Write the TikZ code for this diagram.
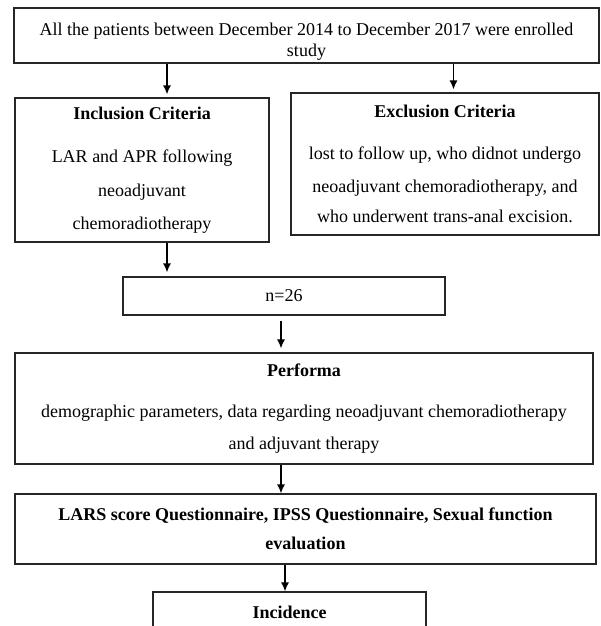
\documentclass[tikz,border=0pt]{standalone}
\usepackage{fontspec}
\setmainfont{Liberation Serif}
\usetikzlibrary{arrows.meta}

\begin{document}
\begin{tikzpicture}[x=1pt,y=-1pt]
\tikzset{wbox/.style = {rectangle, draw=black!85, line width=1.1pt, inner sep=0pt, align=center, font=\fontsize{18}{21}\selectfont}}
\tikzset{arr/.style = {-{Latex[length=9pt,width=8pt]}, line width=1.5pt}}
\useasboundingbox[fill=white] (0,0) rectangle (600,626);

    \node[wbox, minimum width=585, minimum height=55] (top) at (306.5,35.5)
        {\rule{0pt}{25pt}All the patients between December 2014 to December 2017 were enrolled\\[0pt] study};

    \node[wbox, minimum width=254, minimum height=144] (incl) at (142,170)
        {\textbf{Inclusion Criteria}\\[22pt] LAR and APR following\\[13pt] neoadjuvant\\[12pt] chemoradiotherapy};
    \node[wbox, minimum width=308, minimum height=142] (excl) at (445,164)
        {\textbf{Exclusion Criteria}\\[21pt] lost to follow up, who didnot undergo\\[12pt] neoadjuvant chemoradiotherapy, and\\[9pt] who underwent trans-anal excision.};

    \node[wbox, minimum width=322, minimum height=38] (n26) at (284,296) {n=26};

    \node[wbox, minimum width=578, minimum height=111] (perf) at (304,408.5)
        {\textbf{Performa}\\[20pt] demographic parameters, data regarding neoadjuvant chemoradiotherapy\\[11pt] and adjuvant therapy};

    \node[wbox, minimum width=581, minimum height=70] (lars) at (305.5,529)
        {\textbf{LARS score Questionnaire, IPSS Questionnaire, Sexual function}\\[8pt] \textbf{evaluation}};

    \node[wbox, minimum width=273, minimum height=40] (inc) at (289.5,612) {\textbf{Incidence}};

\draw[arr, shorten >=3pt] ([xshift=25pt]incl.north |- top.south) -- ([xshift=25pt]incl.north);
\draw[arr, shorten >=3pt] ([xshift=8.5pt]excl.north |- top.south) -- ([xshift=8.5pt]excl.north);
\draw[arr, shorten >=4pt] ([xshift=-117pt]n26.north |- incl.south) -- ([xshift=-117pt]n26.north);
\draw[arr, shorten <=5pt, shorten >=4pt] ([xshift=-3pt]n26.south) -- ([xshift=-3pt]n26.south |- perf.north);
\draw[arr] ([xshift=-23pt]perf.south) -- ([xshift=-23pt]perf.south |- lars.north);
\draw[arr] ([xshift=-20.5pt]lars.south) -- ([xshift=-20.5pt]lars.south |- inc.north);
\end{tikzpicture}
\end{document}
